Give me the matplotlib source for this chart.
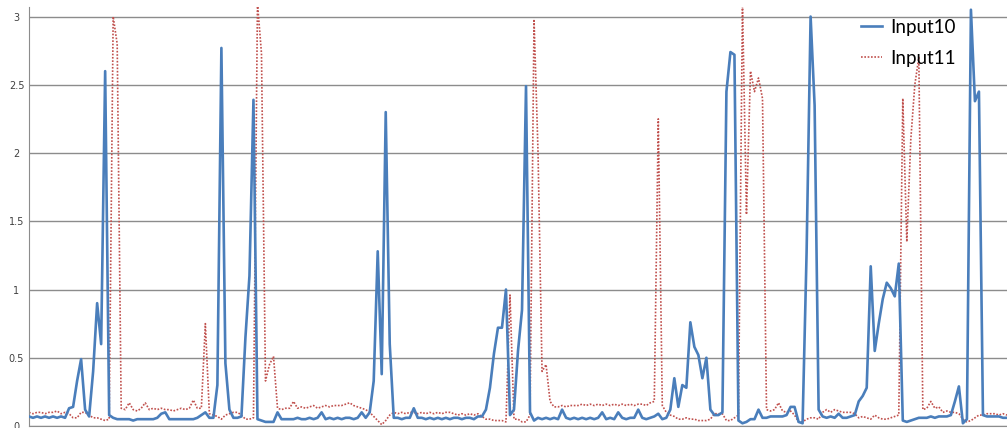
import matplotlib.pyplot as plt

# Input10 (blue, solid) and Input11 (red, dotted), one sample every ~4 px
input10 = [
    0.07, 0.06, 0.07, 0.06, 0.07, 0.06, 0.07, 0.06, 0.07, 0.06,
    0.13, 0.14, 0.33, 0.49, 0.12, 0.07, 0.40, 0.90, 0.60, 2.60,
    0.08, 0.06, 0.05, 0.05, 0.05, 0.05, 0.04, 0.05, 0.05, 0.05,
    0.05, 0.05, 0.06, 0.09, 0.10, 0.05, 0.05, 0.05, 0.05, 0.05,
    0.05, 0.05, 0.06, 0.08, 0.10, 0.06, 0.06, 0.30, 2.77, 0.46,
    0.12, 0.06, 0.06, 0.07, 0.65, 1.10, 2.39, 0.05, 0.04, 0.03,
    0.03, 0.03, 0.10, 0.05, 0.05, 0.05, 0.05, 0.06, 0.05, 0.05,
    0.06, 0.05, 0.06, 0.10, 0.05, 0.06, 0.05, 0.06, 0.05, 0.06,
    0.06, 0.05, 0.06, 0.10, 0.06, 0.10, 0.33, 1.28, 0.38, 2.30,
    0.60, 0.06, 0.06, 0.05, 0.06, 0.06, 0.13, 0.06, 0.06, 0.05,
    0.06, 0.05, 0.06, 0.05, 0.06, 0.05, 0.06, 0.06, 0.05, 0.06,
    0.06, 0.05, 0.07, 0.07, 0.12, 0.28, 0.53, 0.72, 0.72, 1.00,
    0.08, 0.12, 0.55, 0.85, 2.49, 0.10, 0.04, 0.06, 0.05, 0.06,
    0.05, 0.06, 0.05, 0.12, 0.06, 0.05, 0.06, 0.05, 0.06, 0.05,
    0.06, 0.05, 0.06, 0.10, 0.05, 0.06, 0.05, 0.10, 0.06, 0.05,
    0.06, 0.06, 0.12, 0.06, 0.05, 0.06, 0.07, 0.09, 0.05, 0.06,
    0.12, 0.35, 0.14, 0.30, 0.28, 0.76, 0.58, 0.52, 0.35, 0.50,
    0.12, 0.08, 0.08, 0.10, 2.45, 2.74, 2.72, 0.04, 0.02, 0.03,
    0.05, 0.05, 0.12, 0.06, 0.06, 0.07, 0.07, 0.07, 0.07, 0.08,
    0.14, 0.14, 0.03, 0.02, 1.27, 3.00, 2.35, 0.12, 0.07, 0.06,
    0.07, 0.06, 0.09, 0.06, 0.06, 0.07, 0.08, 0.18, 0.22, 0.28,
    1.17, 0.55, 0.75, 0.93, 1.05, 1.01, 0.95, 1.19, 0.04, 0.03,
    0.04, 0.05, 0.06, 0.06, 0.06, 0.07, 0.06, 0.07, 0.07, 0.07,
    0.08, 0.18, 0.29, 0.02, 0.05, 3.05, 2.38, 2.45, 0.08, 0.07,
    0.07, 0.07, 0.07, 0.06, 0.06,
]
input11 = [
    0.10, 0.09, 0.10, 0.10, 0.09, 0.10, 0.10, 0.11, 0.09, 0.10,
    0.09, 0.06, 0.06, 0.10, 0.10, 0.08, 0.06, 0.06, 0.05, 0.04,
    0.05, 3.00, 2.80, 0.13, 0.12, 0.17, 0.12, 0.11, 0.13, 0.17,
    0.12, 0.13, 0.12, 0.13, 0.12, 0.12, 0.11, 0.12, 0.13, 0.12,
    0.13, 0.19, 0.13, 0.13, 0.75, 0.09, 0.08, 0.07, 0.05, 0.08,
    0.09, 0.10, 0.10, 0.08, 0.05, 0.05, 0.06, 3.10, 2.73, 0.33,
    0.45, 0.51, 0.13, 0.12, 0.13, 0.13, 0.18, 0.13, 0.14, 0.13,
    0.14, 0.15, 0.13, 0.14, 0.15, 0.14, 0.15, 0.15, 0.15, 0.16,
    0.17, 0.15, 0.14, 0.13, 0.12, 0.10, 0.07, 0.04, 0.01, 0.04,
    0.08, 0.10, 0.09, 0.10, 0.09, 0.10, 0.10, 0.09, 0.10, 0.09,
    0.10, 0.09, 0.10, 0.09, 0.10, 0.10, 0.09, 0.08, 0.09, 0.08,
    0.09, 0.08, 0.09, 0.07, 0.05, 0.05, 0.04, 0.04, 0.04, 0.03,
    0.96, 0.05, 0.05, 0.03, 0.03, 0.08, 2.98, 2.00, 0.40, 0.45,
    0.18, 0.14, 0.14, 0.15, 0.14, 0.15, 0.15, 0.15, 0.16, 0.15,
    0.16, 0.15, 0.16, 0.15, 0.16, 0.15, 0.16, 0.15, 0.16, 0.15,
    0.16, 0.15, 0.16, 0.16, 0.15, 0.17, 0.18, 2.25, 0.15, 0.10,
    0.08, 0.07, 0.05, 0.05, 0.06, 0.05, 0.05, 0.04, 0.04, 0.04,
    0.05, 0.09, 0.09, 0.09, 0.04, 0.04, 0.06, 0.08, 3.10, 1.55,
    2.60, 2.45, 2.55, 2.40, 0.12, 0.11, 0.12, 0.17, 0.11, 0.10,
    0.11, 0.08, 0.03, 0.03, 0.05, 0.06, 0.06, 0.05, 0.10, 0.12,
    0.10, 0.12, 0.11, 0.10, 0.10, 0.10, 0.09, 0.06, 0.07, 0.06,
    0.05, 0.08, 0.06, 0.05, 0.05, 0.06, 0.07, 0.08, 2.40, 1.35,
    2.10, 2.50, 2.70, 0.12, 0.13, 0.18, 0.13, 0.14, 0.10, 0.11,
    0.10, 0.10, 0.09, 0.05, 0.03, 0.04, 0.06, 0.08, 0.08, 0.09,
    0.09, 0.09, 0.08, 0.09, 0.08,
]
yticks = [0, 0.5, 1, 1.5, 2, 2.5, 3]
ytick_labels = ["0", "0.5", "1", "1.5", "2", "2.5", "3"]

x = list(range(len(input10)))

fig = plt.figure(figsize=(10.07, 4.28), dpi=100)
ax = fig.add_axes([29 / 1007, 2 / 428, 978 / 1007, 419 / 428])

ax.plot(x, input10, color="#4a7ebb", lw=1.9, label="Input10", zorder=3)
ax.plot(x, input11, color="#c0504d", lw=1.2, linestyle=(0, (1, 1)),
        label="Input11", zorder=2)

ax.set_xlim(0, len(x) - 1)
ax.set_ylim(0, 3.07)
ax.set_yticks(yticks)
ax.set_yticklabels(ytick_labels)
ax.set_xticks([])
ax.grid(axis="y", color="#8c8c8c", lw=1)
ax.set_axisbelow(True)

for s in ["top", "right"]:
    ax.spines[s].set_visible(False)
ax.spines["left"].set_color("#8c8c8c")
ax.spines["bottom"].set_color("#8c8c8c")
ax.spines["bottom"].set_linestyle((0, (2, 1)))
ax.tick_params(axis="y", length=0, pad=9, labelsize=7, labelcolor="#404040")
for lab in ax.get_yticklabels():
    lab.set_horizontalalignment("center")

ax.legend(loc="upper left", bbox_to_anchor=(859 / 1007, 0.961),
          bbox_transform=fig.transFigure, frameon=False,
          prop={"family": "Lato", "size": 13.5}, handlelength=1.15,
          handletextpad=0.4, labelspacing=0.75, borderpad=0.1, borderaxespad=0)

fig.savefig("out.png", dpi=100)
